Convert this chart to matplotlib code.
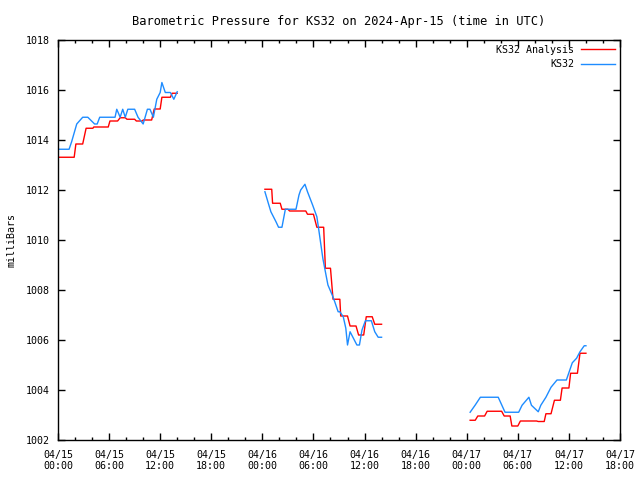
import numpy as np
import matplotlib
matplotlib.use("Agg")
import matplotlib.pyplot as plt
from matplotlib.ticker import MultipleLocator

# hours since 2024-04-15 00:00 UTC; NaN marks gaps between data runs
analysis_hours = [
    0.2, 1.9, 2.1, 2.9, 3.3, 4.1, 4.2, 5.9, 6.1, 7.0, 7.3, 7.9, 8.1, 9.0, 9.2, 9.9,
    10.0, 11.0, 11.3, 12.0, 12.2, 13.2, 13.4, 14.0, np.nan,
    24.3, 25.1, 25.2, 26.1, 26.3, 27.0, 27.2, 29.1, 29.3, 30.0, 30.4, 31.2, 31.4,
    32.0, 32.3, 33.1, 33.2, 34.0, 34.3, 35.0, 35.3, 35.9, 36.2, 36.9, 37.2, 38.0, np.nan,
    48.4, 49.0, 49.3, 50.1, 50.4, 52.1, 52.4, 53.1, 53.3, 54.0, 54.3, 56.2, 56.4,
    57.1, 57.3, 57.9, 58.3, 59.0, 59.2, 60.0, 60.2, 61.0, 61.3, 62.0,
]
analysis_mb = [
    1013.31, 1013.31, 1013.84, 1013.84, 1014.47, 1014.47, 1014.52, 1014.52, 1014.76,
    1014.76, 1014.89, 1014.89, 1014.83, 1014.83, 1014.76, 1014.76, 1014.80, 1014.80,
    1015.24, 1015.24, 1015.71, 1015.71, 1015.87, 1015.87, np.nan,
    1012.03, 1012.03, 1011.47, 1011.47, 1011.23, 1011.23, 1011.16, 1011.16, 1011.03,
    1011.03, 1010.51, 1010.51, 1008.87, 1008.87, 1007.63, 1007.63, 1006.96, 1006.96,
    1006.56, 1006.56, 1006.20, 1006.20, 1006.93, 1006.93, 1006.63, 1006.63, np.nan,
    1002.79, 1002.79, 1002.96, 1002.96, 1003.15, 1003.15, 1002.96, 1002.96, 1002.56,
    1002.56, 1002.76, 1002.76, 1002.74, 1002.74, 1003.05, 1003.05, 1003.59, 1003.59,
    1004.08, 1004.08, 1004.67, 1004.67, 1005.47, 1005.47,
]

station_hours = [
    0.2, 1.3, 1.6, 2.2, 2.9, 3.5, 4.3, 4.6, 4.9, 6.7, 6.9, 7.3, 7.6, 7.9, 8.2, 9.0,
    9.4, 10.0, 10.5, 10.8, 11.2, 11.6, 12.0, 12.2, 12.6, 13.2, 13.6, 14.0, np.nan,
    24.3, 24.7, 25.0, 25.6, 25.9, 26.3, 26.7, 27.95, 28.3, 28.5, 29.0, 29.3, 29.9,
    30.4, 30.6, 31.1, 31.4, 31.7, 32.2, 32.5, 32.9, 33.1, 33.5, 33.8, 34.0, 34.3,
    35.1, 35.4, 35.7, 36.1, 36.8, 37.2, 37.6, 38.0, np.nan,
    48.4, 49.0, 49.6, 51.7, 52.5, 54.1, 54.5, 55.3, 55.6, 56.4, 56.7, 57.3, 57.9,
    58.6, 59.7, 60.4, 60.9, 61.3, 61.8, 62.0,
]
station_mb = [
    1013.63, 1013.63, 1013.93, 1014.64, 1014.91, 1014.91, 1014.64, 1014.64, 1014.91,
    1014.91, 1015.23, 1014.91, 1015.23, 1014.91, 1015.23, 1015.23, 1014.91, 1014.64,
    1015.23, 1015.23, 1014.91, 1015.63, 1015.90, 1016.30, 1015.90, 1015.90, 1015.63,
    1015.93, np.nan,
    1011.93, 1011.47, 1011.13, 1010.73, 1010.51, 1010.51, 1011.23, 1011.23, 1011.80,
    1012.00, 1012.23, 1011.93, 1011.40, 1010.93, 1010.47, 1009.27, 1008.73, 1008.20,
    1007.80, 1007.53, 1007.13, 1007.13, 1006.93, 1006.47, 1005.80, 1006.33, 1005.80,
    1005.80, 1006.40, 1006.77, 1006.77, 1006.33, 1006.11, 1006.11, np.nan,
    1003.11, 1003.40, 1003.71, 1003.71, 1003.11, 1003.11, 1003.39, 1003.71, 1003.39,
    1003.13, 1003.39, 1003.71, 1004.11, 1004.40, 1004.40, 1005.09, 1005.27, 1005.53,
    1005.77, 1005.77,
]

tick_hours = list(range(0, 67, 6))
tick_labels = [
    "04/15\n00:00", "04/15\n06:00", "04/15\n12:00", "04/15\n18:00",
    "04/16\n00:00", "04/16\n06:00", "04/16\n12:00", "04/16\n18:00",
    "04/17\n00:00", "04/17\n06:00", "04/17\n12:00", "04/17\n18:00",
]

plt.rcParams.update({
    "font.family": "DejaVu Sans Mono",
    "font.size": 7.2,
})

fig = plt.figure(figsize=(6.4, 4.8), dpi=100)
ax = fig.add_axes([58 / 640, 40 / 480, 562 / 640, 400 / 480])

ax.plot(analysis_hours, analysis_mb, color="#ff0000", lw=1.0, label="KS32 Analysis")
ax.plot(station_hours, station_mb, color="#1e8cff", lw=1.0, label="KS32")

ax.set_xlim(0, 66)
ax.set_ylim(1002, 1018)
ax.set_xticks(tick_hours, labels=tick_labels)
ax.xaxis.set_minor_locator(MultipleLocator(2))
ax.yaxis.set_major_locator(MultipleLocator(2))
ax.tick_params(which="both", direction="in", top=True, right=True, width=1)
ax.tick_params(which="major", length=5)
ax.tick_params(axis="x", which="major", pad=7)
ax.tick_params(axis="y", which="major", pad=6)
ax.tick_params(which="minor", length=2.5)
for s in ax.spines.values():
    s.set_linewidth(1)

ax.set_ylabel("milliBars")
ax.yaxis.set_label_coords(-0.074, 0.5)
ax.set_title("Barometric Pressure for KS32 on 2024-Apr-15 (time in UTC)", pad=11)

ax.legend(loc="upper right", markerfirst=False, frameon=False, handlelength=3.4,
          borderaxespad=0.1, labelspacing=0.45, handletextpad=0.7)

fig.savefig("out.png", dpi=100)
